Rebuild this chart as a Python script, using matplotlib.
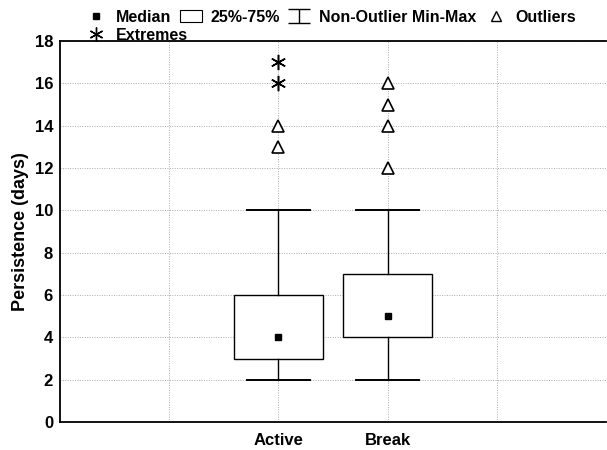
import matplotlib
matplotlib.use('Agg')
import matplotlib.pyplot as plt
from matplotlib.lines import Line2D
from matplotlib.patches import Patch
from matplotlib.path import Path

plt.rcParams['font.family'] = ['Liberation Sans', 'DejaVu Sans']
plt.rcParams['font.weight'] = 'bold'

categories = ['Active', 'Break']
positions = [2, 3]
q1 = [3, 4]
q3 = [6, 7]
medians = [4, 5]
whisk_lo = [2, 2]
whisk_hi = [10, 10]
outliers = [[13, 14], [12, 14, 15, 16]]
extremes = [[16, 17], []]

stats = []
for i in range(len(categories)):
    stats.append(dict(med=medians[i], q1=q1[i], q3=q3[i],
                      whislo=whisk_lo[i], whishi=whisk_hi[i], fliers=[]))

fig = plt.figure(figsize=(6.07, 4.5), dpi=100)
ax = fig.add_axes([60 / 607, 28 / 450, 546 / 607, 381 / 450])

ax.bxp(stats, positions=positions, widths=0.81, showfliers=False,
       patch_artist=True,
       boxprops=dict(facecolor='white', edgecolor='black', linewidth=1.0),
       whiskerprops=dict(color='black', linewidth=1.0),
       capprops=dict(color='black', linewidth=1.4),
       medianprops=dict(linewidth=0),
       capwidths=0.58, zorder=3)

ax.plot(positions, medians, 's', color='black', markersize=5, zorder=4)

for p, vals in zip(positions, outliers):
    ax.plot([p] * len(vals), vals, '^', markerfacecolor='white',
            markeredgecolor='black', markersize=8, markeredgewidth=1.2,
            linestyle='none', zorder=4)
for p, vals in zip(positions, extremes):
    ax.plot([p] * len(vals), vals, marker=(6, 2, 0), color='black',
            markersize=11, markeredgewidth=1.1, linestyle='none', zorder=4)

ax.set_xlim(0, 5)
ax.set_ylim(0, 18)
ax.set_yticks(range(0, 19, 2))
ax.set_xticks([1, 2, 3, 4])
ax.set_xticklabels(['', categories[0], categories[1], ''], fontsize=13,
                   fontweight='bold')
ax.tick_params(axis='both', length=0, labelsize=12, pad=5)
ax.tick_params(axis='x', pad=8)
ax.grid(True, linestyle=(0, (1, 1.5)), color='#aaaaaa', linewidth=0.7, zorder=0)
ax.set_axisbelow(True)
ax.spines['right'].set_visible(False)
for s in ['left', 'bottom', 'top']:
    ax.spines[s].set_linewidth(1.3)
ax.set_ylabel('Persistence (days)', fontsize=13, fontweight='bold', labelpad=4)

# I-beam symbol for the whisker range entry
ibeam = Path([(-1, 0.6), (1, 0.6), (0, 0.6), (0, -0.6), (-1, -0.6), (1, -0.6)],
             [Path.MOVETO, Path.LINETO, Path.MOVETO, Path.LINETO,
              Path.MOVETO, Path.LINETO])
handles = [
    Line2D([], [], marker='s', color='black', linestyle='none', markersize=5),
    Patch(facecolor='white', edgecolor='black', linewidth=0.8),
    Line2D([], [], marker=ibeam, color='black', linestyle='none',
           markersize=16, markeredgewidth=1.0),
    Line2D([], [], marker='^', markerfacecolor='white', markeredgecolor='black',
           linestyle='none', markersize=7),
]
labels = ['Median', '25%-75%', 'Non-Outlier Min-Max', 'Outliers']
legend_kw = dict(frameon=False, prop=dict(size=11.5, weight='bold'),
                 handlelength=1.4, handletextpad=0.55, columnspacing=0.5,
                 borderpad=0, borderaxespad=0, loc='center left')
fig.legend(handles, labels, ncol=4,
           bbox_to_anchor=(85 / 607, 1 - 17 / 450), **legend_kw)
ext_handle = Line2D([], [], marker=(6, 2, 0), color='black', linestyle='none',
                    markersize=10, markeredgewidth=1.0)
fig.legend([ext_handle], ['Extremes'],
           bbox_to_anchor=(85 / 607, 1 - 35 / 450), **legend_kw)

fig.savefig('out.png', dpi=100)
